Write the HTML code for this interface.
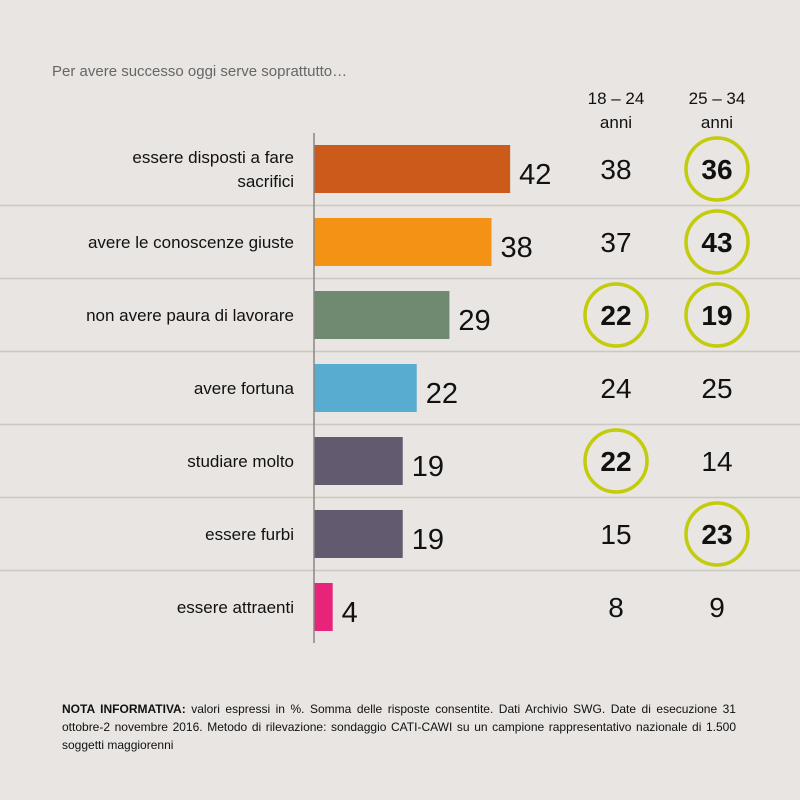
<!DOCTYPE html>
<html><head><meta charset="utf-8"><style>
body{margin:0;background:#e8e5e2;}
#wrap{position:relative;width:800px;height:800px;background:#e8e5e2;font-family:"Liberation Sans",sans-serif;overflow:hidden}
.note{position:absolute;left:62px;top:700px;width:674px;font-size:12px;line-height:18px;text-align:justify;color:#111}
</style></head><body>
<div id="wrap">
<svg id="svg" width="800" height="800">
<text x="52" y="76" font-size="15" fill="#666">Per avere successo oggi serve soprattutto…</text>
<text x="616" y="104" font-size="17" text-anchor="middle" fill="#111">18 – 24</text>
<text x="616" y="128" font-size="17" text-anchor="middle" fill="#111">anni</text>
<text x="717" y="104" font-size="17" text-anchor="middle" fill="#111">25 – 34</text>
<text x="717" y="128" font-size="17" text-anchor="middle" fill="#111">anni</text>
</svg>
<div class="note"><b>NOTA INFORMATIVA:</b> valori espressi in %. Somma delle risposte consentite. Dati Archivio SWG. Date di esecuzione 31 ottobre-2 novembre 2016. Metodo di rilevazione: sondaggio CATI-CAWI su un campione rappresentativo nazionale di 1.500 soggetti maggiorenni</div>
</div>
<script>
const categories=[["essere disposti a fare","sacrifici"],["avere le conoscenze giuste"],["non avere paura di lavorare"],["avere fortuna"],["studiare molto"],["essere furbi"],["essere attraenti"]];
const totals=[42,38,29,22,19,19,4];
const age1824=[38,37,22,24,22,15,8];
const age2534=[36,43,19,25,14,23,9];
const hl1824=[false,false,true,false,true,false,false];
const hl2534=[true,true,true,false,false,true,false];
const colors=["#cc5a1a","#f39214","#6f8a70","#58acd0","#625a6e","#625a6e","#e8237a"];
const NS="http://www.w3.org/2000/svg";
const svg=document.getElementById('svg');
const x0=314,pxPer=4.67,row0=169,pitch=73,barH=48;
const xs=v=>x0+v*pxPer;
const yc=i=>row0+i*pitch;
function mk(tag,a){const e=document.createElementNS(NS,tag);for(const k in a)e.setAttribute(k,a[k]);svg.appendChild(e);return e;}
for(let i=0;i<categories.length-1;i++){
  const l=mk('line',{x1:0,x2:800,y1:yc(i)+36.5,y2:yc(i)+36.5,stroke:'#cbc7c3','stroke-width':1.5});
  
  
}
categories.forEach((c,i)=>{
  const y=yc(i);
  const t=mk('text',{x:294,'text-anchor':'end','font-size':17,fill:'#111'});
  
  
  c.forEach((s,j)=>{const ts=document.createElementNS(NS,'tspan');ts.setAttribute('x',294);ts.setAttribute('y',y+6+(j-(c.length-1)/2)*24);ts.textContent=s;t.appendChild(ts);});
  const b=mk('rect',{x:x0,y:y-barH/2,width:xs(totals[i])-x0,height:barH,fill:colors[i]});
  
  
  const v=mk('text',{x:xs(totals[i])+9,y:y+15,'font-size':29,fill:'#111'});
  v.textContent=totals[i];
  
  
  [[616,age1824,hl1824],[717,age2534,hl2534]].forEach(([cx,arr,hl])=>{
    if(hl[i]){const ci=mk('circle',{cx:cx,cy:y,r:31,fill:'none',stroke:'#c2cc0a','stroke-width':3.5});
      
      }
    const tx=mk('text',{x:cx,y:y+10,'text-anchor':'middle','font-size':28,fill:'#111','font-weight':hl[i]?'bold':'normal'});
    tx.textContent=arr[i];
    
    
  });
});
const ax=mk('line',{x1:x0,x2:x0,y1:133,y2:643,stroke:'#8a8683','stroke-width':1.5});


</script>
</body></html>
